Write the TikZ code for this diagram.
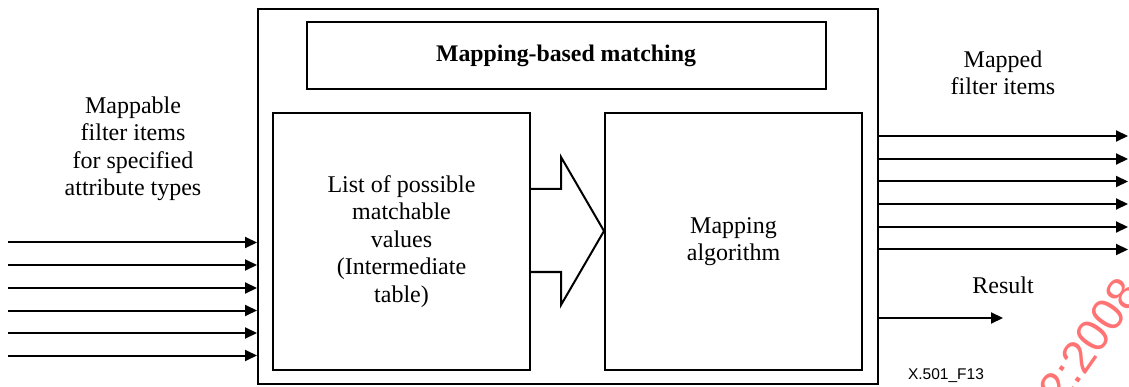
\documentclass[tikz,border=0pt]{standalone}
\usepackage{fontspec}
\setmainfont{Liberation Serif}
\newfontfamily\arialfont{Liberation Sans}
\usetikzlibrary{arrows.meta}
\definecolor{wmred}{RGB}{255,115,115}
\begin{document}
\begin{tikzpicture}[x=1pt,y=-1pt,
  box/.style={draw,line width=2pt,minimum width=#1,inner sep=0pt},
  lbl/.style={align=center,font=\fontsize{24}{27.5}\selectfont,inner sep=0pt},
  arr/.style={line width=2pt,-{Triangle[length=12pt,width=11pt]}},
  shp/.style={line width=2pt,line join=miter}]
\useasboundingbox (0,0) rectangle (1129,387);
\clip (0,0) rectangle (1129,387);
% boxes
\node[box=620pt,minimum height=375pt] (outer) at (568,196.5) {};
\node[box=519pt,minimum height=67pt,font=\fontsize{23.8}{28}\selectfont\bfseries] (title) at (566,56) {Mapping-based matching};
\node[box=257pt,minimum height=257pt] (list) at (401.5,241.5) {};
\node[box=257pt,minimum height=257pt] (alg) at (733.5,241.5) {};
\node[lbl] (listtxt) at (list.center) {List of possible\\matchable\\values\\(Intermediate\\table)};
\node[lbl] (algtxt) at (alg.center) {Mapping\\algorithm};
% big arrow
\draw[shp] (list.east |- 0,189) -- (561,189) -- (561,157) -- (alg.west |- 0,231) -- (561,305) -- (561,272) -- (list.east |- 0,272);
% labels
\node[lbl] (inlbl) at (133,149) {Mappable\\filter items\\for specified\\attribute types};
\node[lbl] (outlbl) at (1003,73) {Mapped\\filter items};
\node[lbl] (reslbl) at (1003,285) {Result};
\node[font=\arialfont\fontsize{15.5}{17}\selectfont,inner sep=0pt] (fig) at (946,376) {X.501\_F13};
% input arrows
\foreach \i/\y in {1/242.5,2/265,3/288,4/310.5,5/333,6/355.5}{
  \coordinate (in\i) at (8,\y);
  \draw[arr] (in\i) -- (in\i -| outer.west);
}
% output arrows
\foreach \i/\y in {1/136,2/159,3/181.5,4/204,5/227,6/249.5}{
  \coordinate (out\i) at (1128,\y);
  \draw[arr] (out\i -| outer.east) -- (out\i);
}
\coordinate (res) at (1003,318);
\draw[arr] (res -| outer.east) -- (res);
% watermark
\node[font=\arialfont\fontsize{46}{46}\selectfont,text=wmred,rotate=55,anchor=base west,inner sep=0pt] (wm) at (1062,408) {2:2008};
\end{tikzpicture}
\end{document}
